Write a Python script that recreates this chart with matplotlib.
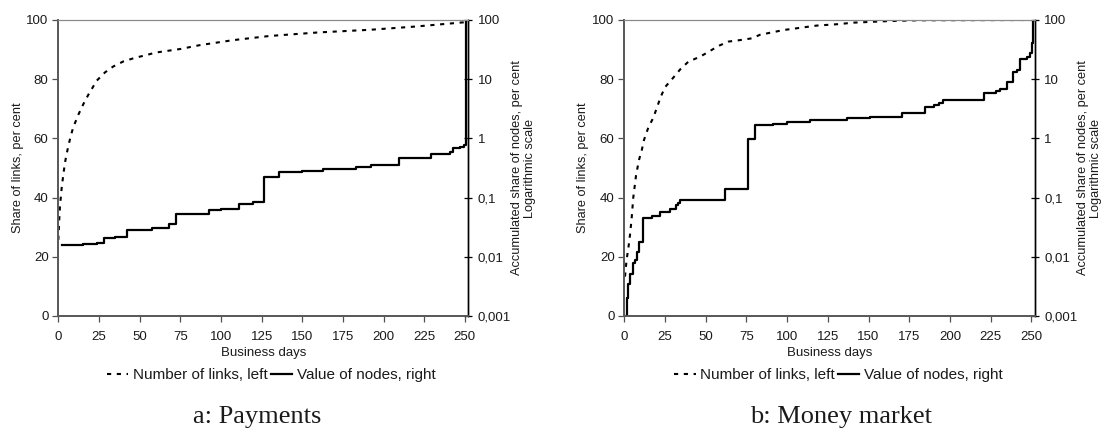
import matplotlib
matplotlib.use("Agg")
import matplotlib.pyplot as plt
from matplotlib.ticker import FixedLocator, FixedFormatter, NullLocator

plt.rcParams["font.family"] = ["Liberation Sans", "DejaVu Sans"]

X_TICKS = [0, 25, 50, 75, 100, 125, 150, 175, 200, 225, 250]
LEFT_TICKS = [0, 20, 40, 60, 80, 100]
RIGHT_TICKS = [0.001, 0.01, 0.1, 1, 10, 100]
RIGHT_TICK_LABELS = ["0,001", "0,01", "0,1", "1", "10", "100"]

LEFT_LABEL = "Share of links, per cent"
RIGHT_LABEL = "Accumulated share of nodes, per cent\nLogarithmic scale"
X_LABEL = "Business days"
LINKS_NAME = "Number of links, left"
NODES_NAME = "Value of nodes, right"

# a: Payments
PAY_LINKS_DAYS = [0, 0.5, 1, 2, 3, 4, 5, 6, 7.6, 9.2, 12.3, 15.4, 18.4, 23.6, 28.7,
                  33.8, 40, 47, 53, 60, 75, 87, 107.6, 130, 160, 192, 220, 249, 251]
PAY_LINKS_SHARE = [25.7, 32, 37, 43, 47.5, 51.5, 54.5, 57, 60.8, 63.8, 68, 71.6, 74.7,
                   79.5, 82.3, 84.3, 86, 87.2, 88, 89, 90.2, 91.5, 93.2, 94.6, 95.8,
                   96.7, 97.8, 99.2, 99.5]
PAY_NODES_DAYS = [2, 15, 24, 28, 35, 42.5, 57.5, 67.8, 72.5, 92.4, 100, 111, 120, 126.5,
                  135.5, 150, 163, 183, 192, 209.5, 229, 241, 243, 247, 249.5, 250.5, 251]
PAY_NODES_VALUE = [0.0158, 0.0162, 0.0168, 0.0211, 0.0218, 0.0282, 0.0309, 0.0355,
                   0.0525, 0.0617, 0.0653, 0.0776, 0.0851, 0.226, 0.266, 0.285, 0.305,
                   0.327, 0.359, 0.462, 0.543, 0.6, 0.676, 0.72, 0.776, 0.944, 100]

# b: Money market
MM_LINKS_DAYS = [0.4, 1.4, 2.5, 3.5, 4.5, 5.5, 7.2, 9, 10.7, 12.1, 14.7, 17.8, 19.9,
                 22.4, 25, 30.2, 34.3, 39.3, 46.5, 51.6, 57.7, 63.9, 71, 78.3, 83.3,
                 91.5, 97.7, 105.9, 118, 131.5, 140.6, 161, 180, 251]
MM_LINKS_SHARE = [13.3, 19, 23, 27.5, 33, 40, 47.5, 52.7, 56, 59.5, 63.6, 67, 70.2,
                  74.1, 77.3, 80.6, 83.3, 85.9, 87.6, 89.2, 91.2, 92.7, 93.2, 93.8, 95,
                  95.9, 96.6, 97.2, 98.1, 98.6, 99.1, 99.6, 99.9, 100]
MM_NODES_DAYS = [0.6, 1.5, 2.5, 3.5, 5.2, 6.6, 8, 9.2, 11.3, 17.3, 22, 28, 31.7, 32.8,
                 34.3, 61.8, 76.2, 80.3, 91.6, 99.8, 108, 114, 136.6, 151, 170.5, 184.7,
                 189.9, 193, 195.5, 220.7, 228, 231, 235, 239, 241, 243, 247.2, 249.2,
                 250.2, 251, 251.3]
MM_NODES_VALUE = [0.001, 0.002, 0.0035, 0.0052, 0.0078, 0.0088, 0.012, 0.018, 0.0447,
                  0.0495, 0.0575, 0.0638, 0.075, 0.080, 0.091, 0.141, 0.966, 1.68, 1.76,
                  1.86, 1.91, 2.04, 2.19, 2.32, 2.66, 3.35, 3.63, 3.89, 4.47, 5.89, 6.3,
                  6.76, 9.12, 13.3, 14.1, 21.6, 24.0, 27.5, 40.3, 82.2, 100]

TEXT_COLOR = "#1a1a1a"


def draw_panel(fig, rect, links_days, links_share, nodes_days, nodes_value,
               title, title_x, legend_x, left_label_x, right_label_x):
    ax = fig.add_axes(rect)
    ax2 = ax.twinx()

    links_line, = ax.plot(links_days, links_share, color="black", lw=1.5,
                          linestyle=(0, (2.0, 2.7)), label=LINKS_NAME)
    nodes_line, = ax2.step(nodes_days, nodes_value, where="post", color="black",
                           lw=1.6, label=NODES_NAME)

    ax.set_xlim(0, 252)
    ax.set_ylim(0, 100)
    ax.set_xticks(X_TICKS)
    ax.set_yticks(LEFT_TICKS)
    ax2.set_yscale("log")
    ax2.set_ylim(0.001, 100)
    ax2.yaxis.set_major_locator(FixedLocator(RIGHT_TICKS))
    ax2.yaxis.set_major_formatter(FixedFormatter(RIGHT_TICK_LABELS))
    ax2.yaxis.set_minor_locator(NullLocator())

    ax.tick_params(axis="both", direction="out", length=4, width=0.9,
                   labelsize=9.5, colors="#505050", labelcolor=TEXT_COLOR)
    ax.tick_params(axis="x", pad=7)
    ax.tick_params(axis="y", pad=3)
    ax2.tick_params(axis="y", direction="inout", length=6, width=0.9, pad=4,
                    labelsize=9.5, colors="black", labelcolor=TEXT_COLOR)

    ax.set_xlabel(X_LABEL, fontsize=9.5, color=TEXT_COLOR)
    ax.xaxis.set_label_coords(0.5, -0.105)
    ax.set_ylabel(LEFT_LABEL, fontsize=9.2, color=TEXT_COLOR)
    ax.yaxis.set_label_coords(left_label_x, 0.5)
    ax2.set_ylabel(RIGHT_LABEL, fontsize=9.2, color=TEXT_COLOR, linespacing=1.1)
    ax2.yaxis.set_label_coords(right_label_x, 0.5)

    for a in (ax, ax2):
        a.spines["left"].set_color("#5a5a5a")
        a.spines["left"].set_linewidth(1.3)
        a.spines["bottom"].set_color("#5a5a5a")
        a.spines["bottom"].set_linewidth(1.3)
        a.spines["top"].set_color("#8a8a8a")
        a.spines["top"].set_linewidth(0.8)
        a.spines["right"].set_color("black")
        a.spines["right"].set_linewidth(1.0)

    fig.legend(handles=[links_line, nodes_line], loc="center",
               bbox_to_anchor=(legend_x, 0.124), ncol=2, frameon=False,
               fontsize=11, handlelength=1.4, handletextpad=0.3,
               columnspacing=0.2, labelcolor=TEXT_COLOR)

    fig.text(title_x, 0.012, title, ha="center", va="baseline", fontsize=19,
             family=["Liberation Serif", "DejaVu Serif"], color=TEXT_COLOR)


fig = plt.figure(figsize=(11.05, 4.28), dpi=100)

draw_panel(fig, [0.0528, 0.2617, 0.3708, 0.6916], PAY_LINKS_DAYS, PAY_LINKS_SHARE,
           PAY_NODES_DAYS, PAY_NODES_VALUE, "a: Payments", 257 / 1105, 271 / 1105,
           -0.083, 1.105)
draw_panel(fig, [0.565, 0.2617, 0.3713, 0.6916], MM_LINKS_DAYS, MM_LINKS_SHARE,
           MM_NODES_DAYS, MM_NODES_VALUE, "b: Money market", 841 / 1105, 838.5 / 1105,
           -0.086, 1.103)

fig.savefig("out.png", dpi=100)
